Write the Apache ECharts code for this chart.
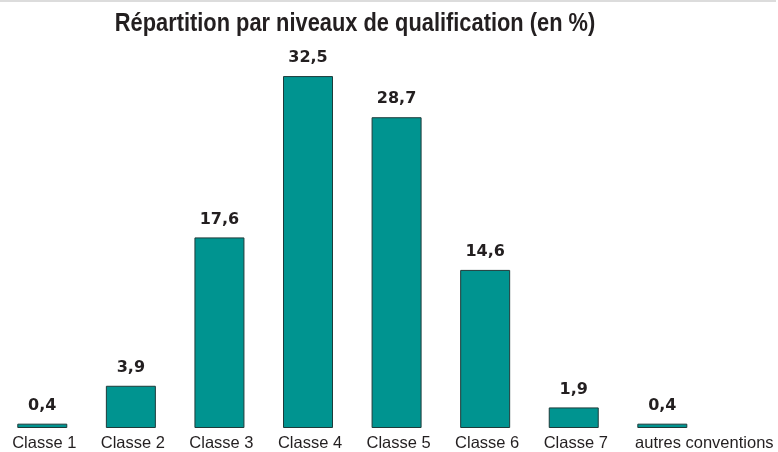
<!DOCTYPE html>
<html><head><meta charset="utf-8">
<script src="https://cdn.jsdelivr.net/npm/echarts@6/dist/echarts.min.js"></script>
<style>html,body{margin:0;padding:0;background:#fff;overflow:hidden}#c{position:absolute;left:-2px;top:0;width:780px;height:452px}</style>
</head><body><div id="c"></div>
<script>
const titleText = 'Répartition par niveaux de qualification (en %)';
const categories = ['Classe 1','Classe 2','Classe 3','Classe 4','Classe 5','Classe 6','Classe 7','autres conventions'];
const values = [0.4, 3.9, 17.6, 32.5, 28.7, 14.6, 1.9, 0.4];

const chart = echarts.init(document.getElementById('c'));
chart.setOption({
  animation: false,
  backgroundColor: '#ffffff',
  graphic: [
    {type: 'line', shape: {x1: 2, y1: 1, x2: 778, y2: 1}, style: {stroke: '#dcdcdc', lineWidth: 2}},
    {type: 'text', x: 357, y: 11, scaleX: 0.84,
     style: {text: titleText, align: 'center', verticalAlign: 'top',
             font: 'bold 26px "Liberation Sans", Arial, sans-serif', fill: '#231f20'}}
  ],
  grid: {left: 0, width: 708.6, top: 49, height: 379},
  xAxis: {
    type: 'category',
    data: categories.map((c, i) => ({value: c, textStyle: {padding: [0, 0, 0, i === categories.length - 1 ? 84 : 4]}})),
    axisLine: {show: false}, axisTick: {show: false},
    axisLabel: {margin: 7, fontFamily: '"Liberation Sans", Arial, sans-serif', fontSize: 16.5, color: '#231f20', interval: 0}
  },
  yAxis: {type: 'value', min: 0, max: 35, show: false, splitLine: {show: false}},
  series: [{
    type: 'bar', data: values, barWidth: 50,
    itemStyle: {color: '#009490', borderColor: '#1d3b3a', borderWidth: 1},
    label: {
      show: true, position: 'top', distance: 10,
      formatter: p => String(p.value).replace('.', ','),
      fontFamily: '"DejaVu Sans", sans-serif', fontWeight: 'bold', fontSize: 16, color: '#231f20'
    }
  }]
});
</script></body></html>
